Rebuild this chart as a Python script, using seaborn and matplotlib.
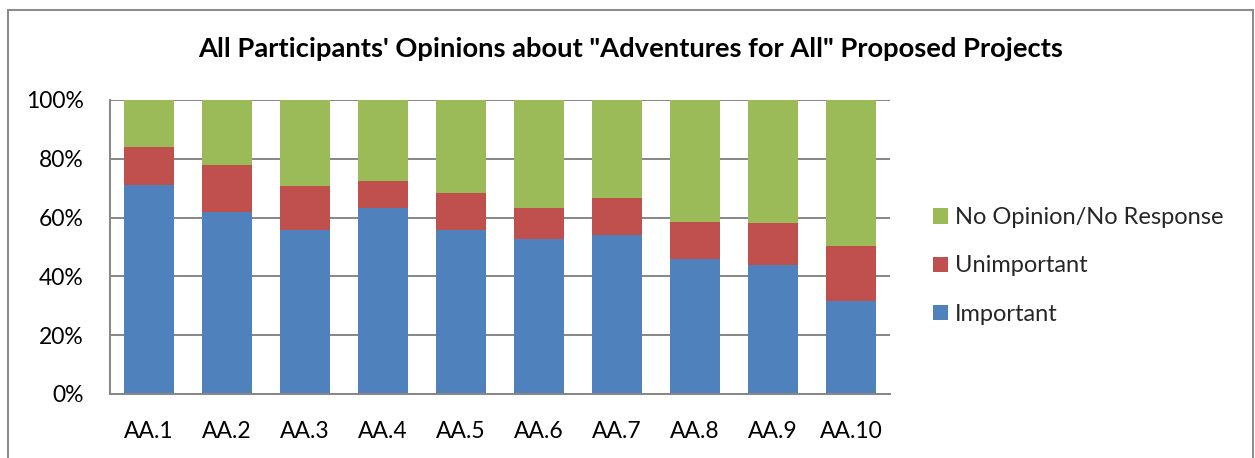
import matplotlib
matplotlib.use("Agg")
import matplotlib.pyplot as plt
from matplotlib.patches import Patch, Rectangle
import seaborn as sns
import pandas as pd

# Survey shares (%) for each proposed project
projects = ["AA.1", "AA.2", "AA.3", "AA.4", "AA.5", "AA.6", "AA.7", "AA.8", "AA.9", "AA.10"]
important = [71.2, 62.0, 55.9, 63.3, 55.9, 52.7, 54.0, 45.9, 43.8, 31.8]
unimportant = [12.7, 15.9, 14.7, 9.3, 12.6, 10.6, 12.6, 12.6, 14.2, 18.7]
no_opinion = [16.1, 22.1, 29.4, 27.4, 31.5, 36.7, 33.4, 41.5, 42.0, 49.5]
series_names = ["Important", "Unimportant", "No Opinion/No Response"]
y_ticks = [0, 20, 40, 60, 80, 100]
y_tick_labels = ["0%", "20%", "40%", "60%", "80%", "100%"]
title = "All Participants' Opinions about \"Adventures for All\" Proposed Projects"

colors = {"Important": "#4F81BD", "Unimportant": "#C0504D",
          "No Opinion/No Response": "#9BBB59"}

df = pd.DataFrame({"project": projects, "Important": important,
                   "Unimportant": unimportant,
                   "No Opinion/No Response": no_opinion})
# cumulative tops for stacking
df["top_imp"] = df["Important"]
df["top_unimp"] = df["Important"] + df["Unimportant"]
df["top_all"] = df["top_unimp"] + df["No Opinion/No Response"]

sns.set_theme(style="white")
plt.rcParams["font.family"] = ["Lato", "DejaVu Sans"]

fig = plt.figure(figsize=(12.55, 4.58), dpi=100)
ax = fig.add_axes([110 / 1255, 1 - 394 / 458, 780 / 1255, 294 / 458])

bar_w = 0.645
for col, name in [("top_all", "No Opinion/No Response"),
                  ("top_unimp", "Unimportant"),
                  ("top_imp", "Important")]:
    sns.barplot(data=df, x="project", y=col, order=projects, color=colors[name],
                width=bar_w, saturation=1, ax=ax, zorder=3, linewidth=0)

ax.set_xlim(-0.5, len(projects) - 0.5)
ax.set_ylim(0, 100)
ax.set_yticks(y_ticks)
ax.set_yticklabels(y_tick_labels)
ax.set_xlabel("")
ax.set_ylabel("")
ax.yaxis.grid(True, color="#868686", linewidth=1.4, zorder=0)
ax.xaxis.grid(False)
ax.tick_params(axis="both", length=0, labelsize=16.5, colors="black")
ax.tick_params(axis="y", pad=19)
ax.tick_params(axis="x", pad=19.5)
for side in ["top", "right"]:
    ax.spines[side].set_visible(False)
for side in ["left", "bottom"]:
    ax.spines[side].set_color("#868686")
    ax.spines[side].set_linewidth(1.4)
    ax.spines[side].set_zorder(4)

fig.text(631 / 1255, 1 - 49 / 458, title, ha="center", va="center",
         fontsize=19.7, fontweight="bold", color="black")

handles = [Patch(facecolor=colors[n], edgecolor="none") for n in reversed(series_names)]
fig.legend(handles, list(reversed(series_names)), loc="center left",
           bbox_to_anchor=(933 / 1255, 1 - 266 / 458), frameon=False,
           fontsize=17, handlelength=0.62, handleheight=0.62,
           handletextpad=0.3, labelspacing=1.15, borderpad=0, borderaxespad=0)

# chart frame
fig.patches.append(Rectangle((8 / 1255, -0.05), 1245 / 1255, 1.05 - 10 / 458,
                             transform=fig.transFigure, fill=False,
                             edgecolor="#8c8c8c", linewidth=1.5))

fig.savefig("out.png", dpi=100, facecolor="white")
